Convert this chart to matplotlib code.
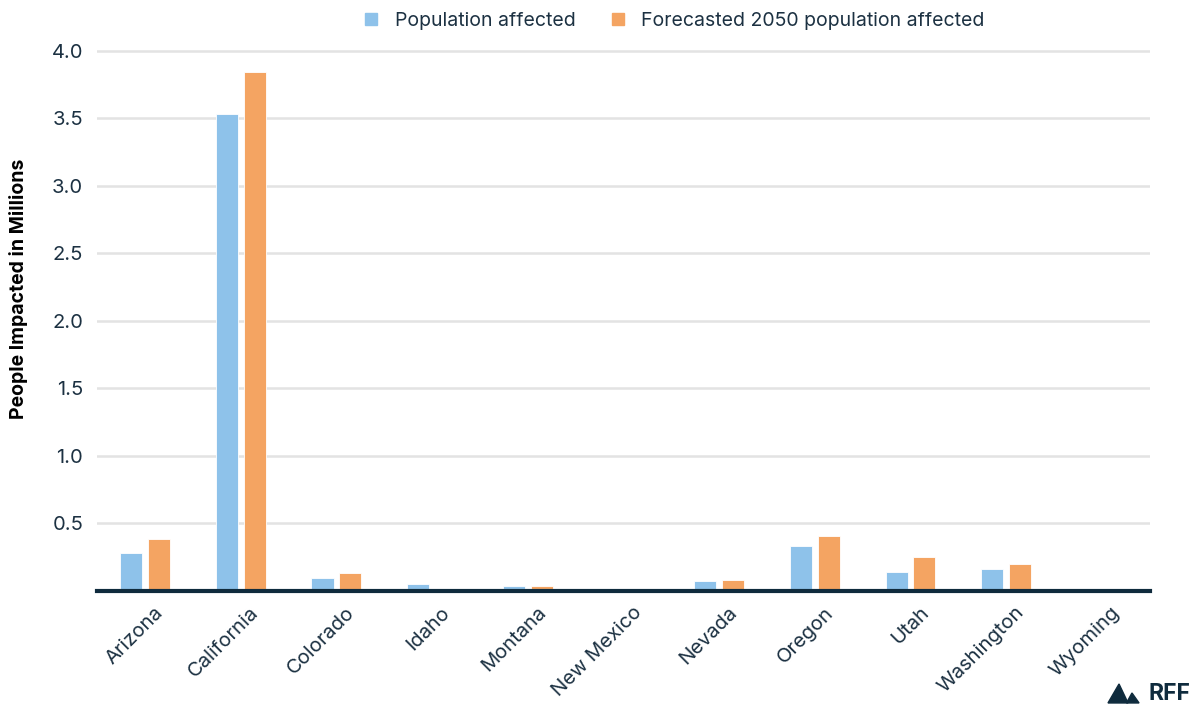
import numpy as np
import matplotlib.pyplot as plt
from matplotlib.patches import Polygon, Patch
from matplotlib.transforms import ScaledTranslation

states = ["Arizona", "California", "Colorado", "Idaho", "Montana", "New Mexico",
          "Nevada", "Oregon", "Utah", "Washington", "Wyoming"]
current = [0.28, 3.53, 0.10, 0.05, 0.035, 0.015, 0.075, 0.335, 0.14, 0.16, 0.005]
forecast_2050 = [0.385, 3.84, 0.13, 0.005, 0.04, 0.015, 0.085, 0.405, 0.25, 0.20, 0.015]
yticks = [0.5, 1.0, 1.5, 2.0, 2.5, 3.0, 3.5, 4.0]

navy = "#0f2b3d"
text_c = "#1c3142"
blue = "#8EC2EA"
orange = "#F4A462"

plt.rcParams["font.family"] = ["Inter", "DejaVu Sans"]

fig = plt.figure(figsize=(11.99, 7.09), dpi=100)
ax = fig.add_axes([0.081, 0.1664, 0.878, 0.781])

x = np.arange(len(states))
w = 0.23
ax.bar(x - 0.145, current, w, color=blue, edgecolor="white", linewidth=0.6, zorder=3)
ax.bar(x + 0.145, forecast_2050, w, color=orange, edgecolor="white", linewidth=0.6, zorder=3)

ax.set_xlim(-0.5, len(states) - 0.5)
ax.set_ylim(0, 4.1)
ax.set_yticks(yticks)
ax.set_yticklabels([f"{v:.1f}" for v in yticks])
ax.set_xticks(x)
ax.set_xticklabels(states, rotation=45, ha="right", rotation_mode="anchor")
ax.tick_params(length=0, labelsize=14.5, labelcolor=text_c)
ax.tick_params(axis="y", pad=10)
ax.tick_params(axis="x", pad=9)
# nudge the rotated state names a little to the right
shift = ScaledTranslation(9 / 100, 0, fig.dpi_scale_trans)
for lbl in ax.get_xticklabels():
    lbl.set_transform(lbl.get_transform() + shift)

ax.grid(axis="y", color="#e3e3e3", linewidth=1.8, zorder=0)
for s in ["top", "right", "left"]:
    ax.spines[s].set_visible(False)
ax.spines["bottom"].set_color(navy)
ax.spines["bottom"].set_linewidth(3)
ax.spines["bottom"].set_zorder(4)
ax.set_ylabel("People Impacted in Millions", fontsize=14, fontweight="bold",
              color="black")
ax.yaxis.set_label_coords(-0.066, 0.546)

handles = [Patch(color=blue, label="Population affected"),
           Patch(color=orange, label="Forecasted 2050 population affected")]
fig.legend(handles=handles, loc="upper center", bbox_to_anchor=(0.563, 1.008),
           ncol=2, frameon=False, fontsize=14, handlelength=0.6, handleheight=0.6,
           columnspacing=1.9, handletextpad=0.9, labelcolor=text_c)

# logo in the bottom-right corner
fig.patches.append(Polygon([(0.9241, 0.0085), (0.9333, 0.0353), (0.9408, 0.0085)],
                           closed=True, transform=fig.transFigure, color=navy))
fig.patches.append(Polygon([(0.9395, 0.0085), (0.9441, 0.0226), (0.9500, 0.0085)],
                           closed=True, transform=fig.transFigure, color=navy))
fig.text(0.958, 0.0215, "RFF", fontsize=16.5, fontweight="bold", color=navy,
         va="center", ha="left")

fig.savefig("out.png", dpi=100)
